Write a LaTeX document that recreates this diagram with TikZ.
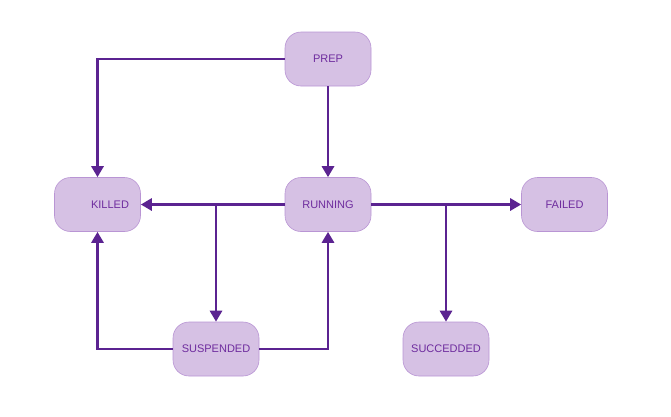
\documentclass[tikz,border=0pt]{standalone}
\usepackage{fontspec}
\setmainfont{Liberation Sans}
\usetikzlibrary{arrows.meta}
\definecolor{linec}{HTML}{5B2391}
\definecolor{boxfill}{HTML}{D6C1E4}
\definecolor{boxdraw}{HTML}{B995D4}
\definecolor{textc}{HTML}{6E2C9E}
\begin{document}
\begin{tikzpicture}[x=1pt,y=-1pt,
  state/.style={draw=boxdraw, line width=0.6pt, fill=boxfill, rounded corners=16pt,
    minimum width=86pt, minimum height=54pt, inner sep=0pt, text=textc, font=\fontsize{11}{13}\selectfont},
  conn/.style={draw=linec, line width=2.9pt, -{Triangle[length=11pt,width=12pt]}}]
\useasboundingbox (0,0) rectangle (671,416);
\node[state] (prep) at (328,59) {PREP};
\node[state] (killed) at (97.5,204.5) {\hspace{25pt}KILLED};
\node[state] (running) at (328,204.5) {RUNNING};
\node[state] (failed) at (564.5,204.5) {FAILED};
\node[state] (susp) at (216,349) {SUSPENDED};
\node[state] (succ) at (446,349) {SUCCEDDED};
\coordinate (b1) at (216,204.5);
\coordinate (b2) at (446,204.5);
\draw[conn] (prep.west) -| (killed.north);
\draw[conn] (prep.south) -- (running.north);
\draw[conn] (running.west) -- (killed.east);
\draw[conn] (b1) -- (susp.north);
\draw[conn] (susp.west) -| (killed.south);
\draw[conn] (susp.east) -| (running.south);
\draw[conn] (running.east) -- (failed.west);
\draw[conn] (b2) -- (succ.north);
\end{tikzpicture}
\end{document}
